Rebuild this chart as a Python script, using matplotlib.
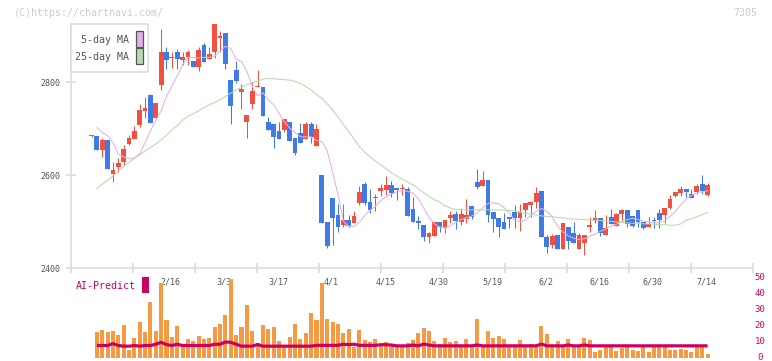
import matplotlib
matplotlib.use("Agg")
import matplotlib.pyplot as plt
import matplotlib.transforms as mtransforms
from matplotlib.patches import Rectangle

# daily candles, oldest first
opens = [2683, 2684, 2654, 2675, 2602, 2618, 2629, 2667, 2677, 2708,
         2738, 2771, 2723, 2794, 2865, 2851, 2865, 2847, 2853, 2845,
         2833, 2880, 2849, 2864, 2894, 2905, 2804, 2826, 2779, 2713,
         2753, 2789, 2790, 2713, 2710, 2695, 2697, 2713, 2679, 2690,
         2677, 2710, 2663, 2600, 2498, 2550, 2514, 2492, 2503, 2497,
         2539, 2581, 2543, 2550, 2566, 2568, 2578, 2573, 2569, 2570,
         2527, 2502, 2492, 2467, 2469, 2498, 2487, 2508, 2516, 2500,
         2505, 2533, 2586, 2576, 2589, 2521, 2508, 2498, 2510, 2521,
         2508, 2525, 2535, 2543, 2566, 2467, 2449, 2471, 2441, 2489,
         2476, 2441, 2454, 2489, 2501, 2507, 2471, 2509, 2490, 2516,
         2525, 2512, 2525, 2500, 2489, 2503, 2518, 2514, 2528, 2555,
         2561, 2570, 2559, 2564, 2581, 2557]
highs = [2685, 2684, 2680, 2675, 2629, 2637, 2665, 2686, 2705, 2753,
         2768, 2775, 2755, 2914, 2875, 2865, 2872, 2865, 2869, 2845,
         2876, 2884, 2875, 2925, 2910, 2905, 2804, 2845, 2796, 2729,
         2799, 2826, 2790, 2724, 2710, 2713, 2720, 2713, 2679, 2711,
         2713, 2713, 2710, 2600, 2498, 2550, 2538, 2538, 2514, 2523,
         2576, 2585, 2570, 2559, 2581, 2598, 2588, 2573, 2581, 2574,
         2553, 2512, 2492, 2478, 2498, 2498, 2503, 2523, 2523, 2530,
         2548, 2533, 2613, 2609, 2589, 2521, 2508, 2518, 2510, 2535,
         2538, 2539, 2543, 2575, 2566, 2471, 2474, 2471, 2497, 2489,
         2500, 2476, 2471, 2509, 2525, 2507, 2514, 2526, 2519, 2527,
         2525, 2512, 2525, 2500, 2509, 2509, 2526, 2528, 2557, 2563,
         2576, 2570, 2570, 2581, 2600, 2582]
lows = [2682, 2654, 2639, 2613, 2586, 2607, 2622, 2665, 2677, 2704,
        2723, 2712, 2723, 2783, 2829, 2830, 2829, 2837, 2837, 2833,
        2824, 2844, 2849, 2852, 2864, 2829, 2709, 2797, 2743, 2679,
        2742, 2789, 2727, 2697, 2659, 2677, 2693, 2673, 2643, 2668,
        2677, 2668, 2663, 2497, 2443, 2449, 2478, 2489, 2489, 2497,
        2535, 2535, 2519, 2523, 2555, 2557, 2553, 2546, 2557, 2512,
        2498, 2484, 2457, 2453, 2469, 2477, 2475, 2497, 2484, 2492,
        2497, 2505, 2570, 2576, 2500, 2478, 2467, 2484, 2486, 2486,
        2480, 2510, 2510, 2529, 2467, 2432, 2442, 2441, 2441, 2441,
        2454, 2441, 2428, 2478, 2497, 2469, 2471, 2495, 2490, 2502,
        2489, 2489, 2489, 2484, 2489, 2485, 2485, 2496, 2526, 2553,
        2555, 2553, 2550, 2559, 2559, 2555]
closes = [2684, 2654, 2675, 2613, 2611, 2626, 2656, 2680, 2695, 2740,
          2745, 2712, 2755, 2865, 2847, 2854, 2849, 2854, 2864, 2833,
          2869, 2844, 2860, 2925, 2899, 2838, 2749, 2803, 2785, 2729,
          2781, 2791, 2727, 2697, 2682, 2677, 2720, 2673, 2648, 2668,
          2710, 2682, 2699, 2497, 2448, 2507, 2489, 2503, 2491, 2512,
          2563, 2539, 2525, 2553, 2571, 2578, 2561, 2568, 2571, 2512,
          2498, 2496, 2467, 2475, 2498, 2488, 2503, 2514, 2502, 2516,
          2514, 2510, 2575, 2589, 2514, 2505, 2489, 2484, 2505, 2508,
          2521, 2539, 2543, 2562, 2467, 2446, 2469, 2441, 2497, 2458,
          2454, 2471, 2471, 2492, 2507, 2475, 2485, 2495, 2516, 2525,
          2495, 2490, 2500, 2485, 2494, 2501, 2503, 2528, 2548, 2563,
          2570, 2564, 2551, 2576, 2566, 2578]

# moving averages (from the 2nd candle on)
ma5 = [2702, 2691, 2685, 2670, 2645, 2639, 2636, 2636, 2646, 2669,
       2695, 2717, 2738, 2769, 2791, 2813, 2837, 2853, 2853, 2852,
       2853, 2853, 2856, 2866, 2877, 2872, 2849, 2844, 2823, 2791,
       2770, 2777, 2761, 2751, 2733, 2715, 2701, 2691, 2682, 2682,
       2682, 2674, 2672, 2652, 2606, 2559, 2501, 2490, 2489, 2498,
       2513, 2524, 2533, 2545, 2553, 2559, 2563, 2566, 2565, 2561,
       2549, 2529, 2509, 2495, 2488, 2486, 2491, 2498, 2504, 2508,
       2512, 2518, 2529, 2539, 2540, 2538, 2530, 2518, 2502, 2500,
       2503, 2513, 2522, 2528, 2522, 2510, 2490, 2477, 2469, 2464,
       2461, 2463, 2468, 2473, 2479, 2484, 2490, 2494, 2500, 2504,
       2507, 2504, 2501, 2499, 2496, 2498, 2502, 2511, 2522, 2536,
       2548, 2556, 2562, 2564, 2566]
ma25 = [2571, 2580, 2589, 2598, 2608, 2618, 2627, 2636, 2643, 2652,
        2659, 2667, 2675, 2686, 2697, 2706, 2718, 2726, 2732, 2738,
        2745, 2751, 2756, 2762, 2769, 2776, 2783, 2788, 2794, 2798,
        2802, 2806, 2808, 2807, 2806, 2805, 2804, 2801, 2797, 2790,
        2783, 2773, 2765, 2753, 2740, 2725, 2709, 2694, 2677, 2661,
        2649, 2639, 2630, 2622, 2613, 2605, 2598, 2591, 2585, 2579,
        2571, 2562, 2554, 2547, 2542, 2534, 2529, 2526, 2525, 2525,
        2525, 2525, 2525, 2525, 2525, 2525, 2524, 2524, 2523, 2520,
        2518, 2516, 2514, 2512, 2511, 2510, 2509, 2508, 2506, 2505,
        2505, 2504, 2503, 2503, 2502, 2501, 2500, 2499, 2498, 2497,
        2496, 2496, 2495, 2495, 2494, 2493, 2493, 2492, 2492, 2495,
        2503, 2506, 2510, 2515, 2519]

# lower panel (0-50 scale), from the 2nd candle on
volume = [16.5, 17.5, 16.5, 16.9, 14.4, 20.6, 5.0, 12.7, 22.7, 16.5,
          35.2, 17.1, 47.1, 23.8, 13.3, 20.2, 8.1, 11.9, 10.8, 14.0,
          11.9, 12.7, 19.6, 21.5, 26.9, 49.4, 14.4, 19.6, 33.1, 17.1,
          9.2, 20.6, 18.1, 19.6, 10.8, 7.5, 13.3, 21.5, 11.9, 15.8,
          28.3, 23.8, 47.1, 24.4, 22.7, 21.5, 15.8, 18.1, 7.1, 17.5,
          11.3, 10.2, 11.9, 8.1, 10.2, 8.1, 6.7, 6.7, 9.6, 11.3,
          15.8, 19.0, 17.1, 10.8, 8.8, 12.7, 10.2, 10.8, 7.5, 11.9,
          6.7, 24.4, 7.5, 16.9, 12.7, 13.8, 11.9, 6.7, 6.7, 11.3,
          7.5, 8.8, 7.5, 20.0, 15.0, 6.7, 10.6, 6.7, 11.9, 6.7,
          7.5, 12.7, 11.3, 4.0, 5.0, 6.7, 6.7, 4.6, 6.0, 6.7,
          5.0, 4.6, 6.7, 4.0, 6.7, 6.7, 6.7, 5.0, 5.0, 5.6,
          5.0, 3.5, 6.7, 6.7, 2.5]
ai_predict = [7.8, 7.8, 7.8, 9.0, 7.8, 7.4, 7.4, 7.8, 7.4, 7.8,
              7.8, 8.6, 9.8, 8.4, 7.8, 8.6, 7.8, 7.8, 7.8, 7.8,
              7.8, 7.8, 8.6, 8.6, 10.0, 9.8, 8.6, 7.4, 7.4, 7.4,
              8.4, 7.4, 7.4, 7.4, 7.4, 7.4, 7.4, 7.4, 7.4, 7.4,
              7.4, 7.9, 7.9, 7.9, 7.9, 7.9, 8.6, 8.4, 8.6, 7.9,
              7.9, 7.9, 7.9, 8.3, 8.3, 8.1, 7.6, 7.6, 7.6, 8.1,
              7.6, 8.7, 8.1, 7.6, 7.6, 7.6, 7.6, 7.6, 7.6, 7.6,
              7.6, 8.1, 7.6, 7.6, 7.6, 7.6, 7.6, 7.6, 7.6, 7.6,
              7.6, 7.6, 7.6, 8.7, 7.6, 7.6, 7.6, 7.6, 8.1, 7.6,
              7.6, 8.1, 7.6, 7.6, 7.6, 7.6, 7.6, 7.6, 7.6, 7.6,
              7.6, 7.6, 7.6, 7.6, 7.6, 7.6, 7.6, 7.6, 7.6, 7.6,
              7.6, 7.6, 7.6, 7.6, 7.6]

date_labels = ["2/16", "3/3", "3/17", "4/1", "4/15", "4/30",
               "5/19", "6/2", "6/16", "6/30", "7/14"]
date_candle = [15, 25, 35, 45, 55, 65, 75, 85, 95, 105, 115]

UP = "#f2503f"
DOWN = "#3f7ae6"
PINK = "#e6b0e6"
GREEN = "#b4dbab"
ORANGE = "#f39a42"
CRIMSON = "#cc0062"
GRID = "#dddddd"
TEXT = "#555555"
MONO = "DejaVu Sans Mono"

W, H = 772, 361


def fx(px):
    return px / W


def fy(py):
    return 1 - py / H


# pixel layout of the original
first_px, step_px = 91.5, 5.357
left_px, right_px = 70.5, 752.5
xlo = (left_px - first_px) / step_px
xhi = (right_px - first_px) / step_px
px_per_yen = 93 / 200

fig = plt.figure(figsize=(W / 100, H / 100), dpi=100)

ax = fig.add_axes([fx(left_px), fy(268), fx(right_px) - fx(left_px), fy(10) - fy(268)])
ax.set_xlim(xlo, xhi)
ax.set_ylim(2400, 2400 + (268 - 10) / px_per_yen)

idx = list(range(len(opens)))
for i, o, h, l, c in zip(idx, opens, highs, lows, closes):
    col = UP if c >= o else DOWN
    ax.vlines(i, l, h, color=col, lw=0.75, zorder=2)
    ax.bar(i, max(abs(c - o), 2.2), bottom=min(o, c), width=0.9, color=col, zorder=2)

ax.plot(idx[1:], ma5, color=PINK, lw=0.75, zorder=3)
ax.plot(idx[1:], ma25, color=GREEN, lw=0.75, zorder=3)

for side in ["top", "right"]:
    ax.spines[side].set_visible(False)
for side in ["left", "bottom"]:
    ax.spines[side].set_color(GRID)
    ax.spines[side].set_linewidth(1.2)
ax.spines["left"].set_bounds(2400, 2400 + (268 - 24) / px_per_yen)

ax.set_yticks([2400, 2600, 2800])
ax.set_yticklabels(["2400", "2600", "2800"], family=MONO)
ax.set_xticks([(left_px + 62 * k - first_px) / step_px for k in range(12)])
ax.set_xticklabels([])
ax.tick_params(axis="both", direction="inout", length=6.5, width=1.2, color=GRID,
               labelsize=6, labelcolor=TEXT, pad=4)

# lower panel
vax = fig.add_axes([fx(left_px), fy(358), fx(right_px) - fx(left_px), fy(278) - fy(358)])
vax.set_xlim(xlo, xhi)
vax.set_ylim(0, 50)
vax.axis("off")
vax.bar(idx[1:], volume, width=0.75, color=ORANGE, zorder=2)
vax.plot(idx[1:], ai_predict, color=CRIMSON, lw=2.3, zorder=3, solid_capstyle="butt")

for lab, pos in zip(date_labels, date_candle):
    vax.text(pos - 0.2, (358 - 282) / 1.6, lab, ha="center", va="center",
             family=MONO, fontsize=6, color=TEXT, zorder=1)

right_tr = mtransforms.blended_transform_factory(fig.transFigure, vax.transData)
for v in range(0, 51, 10):
    vax.text(fx(760), v, str(v), transform=right_tr, ha="center", va="center",
             family=MONO, fontsize=6.5, color=CRIMSON, clip_on=False)

# header
fig.text(fx(14), fy(12.5), "(C)https://chartnavi.com/", ha="left", va="center",
         family=MONO, fontsize=7.2, color="#cccccc")
fig.text(fx(757), fy(12.5), "7305", ha="right", va="center",
         family=MONO, fontsize=7.2, color="#cccccc")

# legend box
fig.add_artist(Rectangle((fx(70.7), fy(71.7)), fx(77.6), 47.4 / H, transform=fig.transFigure,
                         facecolor="white", edgecolor=GRID, lw=1.2, zorder=5))
for label, col, ty, sy in [("5-day MA", PINK, 40, 31), ("25-day MA", GREEN, 56.5, 48.3)]:
    fig.text(fx(129.3), fy(ty), label, ha="right", va="center", family=MONO,
             fontsize=7.2, color=TEXT, zorder=6)
    fig.add_artist(Rectangle((fx(136), fy(sy + 15.5)), fx(6.7), 15.5 / H,
                             transform=fig.transFigure, facecolor=col,
                             edgecolor="#555555", lw=0.9, zorder=6))

fig.text(fx(75.7), fy(286), "AI-Predict", ha="left", va="center", family=MONO,
         fontsize=7.2, color=CRIMSON)
fig.add_artist(Rectangle((fx(142), fy(292.7)), fx(7), 15.4 / H, transform=fig.transFigure,
                         facecolor=CRIMSON, edgecolor="none"))

fig.savefig("out.png", dpi=100)
